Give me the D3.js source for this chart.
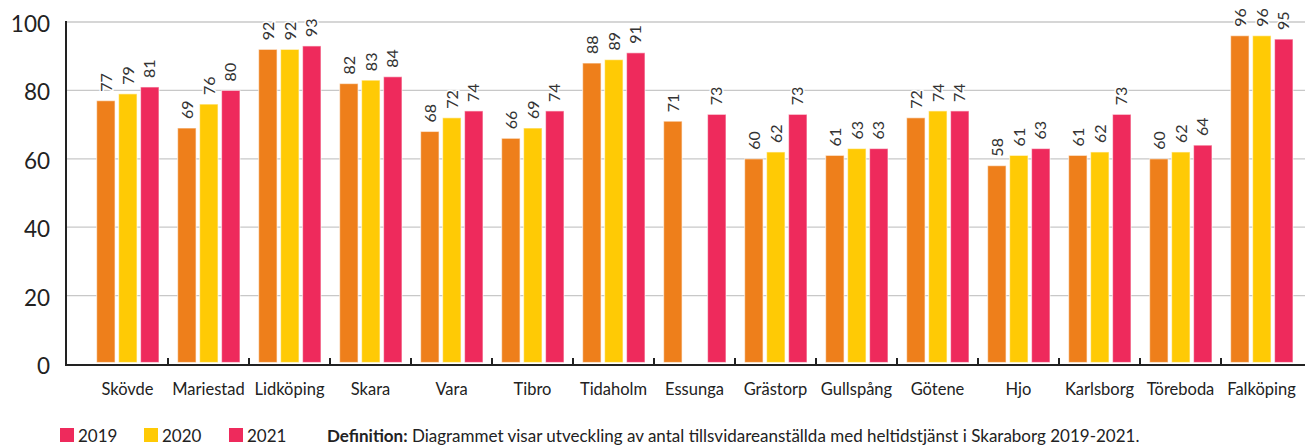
<!DOCTYPE html>
<html><head><meta charset="utf-8">
<script src="https://cdn.jsdelivr.net/npm/d3@7"></script>
<style>
html,body{margin:0;padding:0;background:#fff;}
svg{display:block;font-family:"Source Sans Pro",Lato,sans-serif;}
</style></head>
<body>
<svg id="chart" width="1305" height="445"></svg>
<script>
const categories = ["Skövde","Mariestad","Lidköping","Skara","Vara","Tibro","Tidaholm","Essunga","Grästorp","Gullspång","Götene","Hjo","Karlsborg","Töreboda","Falköping"];
const seriesNames = ["2019","2020","2021"];
const values2019 = [77,69,92,82,68,66,88,71,60,61,72,58,61,60,96];
const values2020 = [79,76,92,83,72,69,89,null,62,63,74,61,62,62,96];
const values2021 = [81,80,93,84,74,74,91,73,73,63,74,63,73,64,95];
const yTicks = [0,20,40,60,80,100];
const definitionLabel = "Definition:";
const definitionText = " Diagrammet visar utveckling av antal tillsvidareanställda med heltidstjänst i Skaraborg 2019-2021.";

const seriesValues = [values2019, values2020, values2021];
const colors = ["#EE7F1B", "#FFCA05", "#EE2A5C"];
const legendColors = ["#EE2A5C", "#FFCA05", "#EE2A5C"];

const svg = d3.select("#chart");
const axisLeftX = 66, plotRight = 1305;
const y = d3.scaleLinear().domain([0,100]).range([364,22]);
const x = d3.scaleBand().domain(categories).range([87,1302]).padding(0);
const xs = d3.scaleBand().domain(seriesNames).range([9.6, 72]).paddingInner(0.16).paddingOuter(0);

// grid
svg.append("g").selectAll("line").data(yTicks.filter(d=>d>0)).join("line")
  .attr("x1", axisLeftX).attr("x2", plotRight)
  .attr("y1", d=>y(d)).attr("y2", d=>y(d))
  .attr("stroke", "#c8c8c8").attr("stroke-width", 1.3);

// y tick labels
svg.append("g").selectAll("text").data(yTicks).join("text")
  .attr("x", 50).attr("y", d=>y(d)+10)
  .attr("text-anchor","end").attr("font-size", 22.5).attr("fill","#222")
  .text(d=>d);

// bars
const rows = [];
categories.forEach((c,i)=>{
  seriesNames.forEach((s,j)=>{
    const v = seriesValues[j][i];
    if (v != null) rows.push({c, s, j, v});
  });
});
svg.append("g").selectAll("rect").data(rows).join("rect")
  .attr("x", d=>x(d.c)+xs(d.s))
  .attr("width", xs.bandwidth())
  .attr("y", d=>y(d.v))
  .attr("height", d=>y(0)-y(d.v)-1.5)
  .attr("fill", d=>colors[d.j])
  .attr("stroke", "#fff").attr("stroke-opacity", 0.55).attr("stroke-width", 1.2);

// value labels (rotated, reading bottom to top)
const lab = svg.append("g").selectAll("g").data(rows).join("g")
  .attr("transform", d => "translate(" + (x(d.c)+xs(d.s)+xs.bandwidth()/2+5.7) + "," + (y(d.v)-9) + ")");
lab.append("text")
  .attr("transform", "rotate(-90)")
  .attr("x", 0).attr("y", 0)
  .attr("font-size", 16).attr("fill","#333")
  .attr("stroke","#fff").attr("stroke-width",3).attr("paint-order","stroke")
  .text(d=>d.v);

// axes
svg.append("line").attr("x1",axisLeftX).attr("x2",axisLeftX).attr("y1",21).attr("y2",366)
  .attr("stroke","#222").attr("stroke-width",2);
svg.append("line").attr("x1",axisLeftX-1).attr("x2",plotRight).attr("y1",365).attr("y2",365)
  .attr("stroke","#222").attr("stroke-width",2);
svg.append("g").selectAll("line").data(categories.slice(1)).join("line")
  .attr("x1", d=>x(d)).attr("x2", d=>x(d)).attr("y1", 358).attr("y2", 365)
  .attr("stroke","#222").attr("stroke-width",2);

// category labels
svg.append("g").selectAll("text").data(categories).join("text")
  .attr("x", d=>x(d)+x.bandwidth()/2).attr("y", 395)
  .attr("text-anchor","middle").attr("font-size",16.5).attr("fill","#222")
  .text(d=>d);

// legend
const lg = svg.append("g");
const legendX = [60, 144, 229];
seriesNames.forEach((s,i)=>{
  lg.append("rect").attr("x", legendX[i]).attr("y", 428).attr("width", 14).attr("height", 14).attr("fill", legendColors[i]);
  lg.append("text").attr("x", legendX[i]+18).attr("y", 442).attr("font-size", 17).attr("fill","#222").text(s);
});
const def = svg.append("text").attr("x", 327).attr("y", 442).attr("font-size", 17).attr("fill","#222");
def.append("tspan").attr("font-weight","bold").text(definitionLabel);
def.append("tspan").text(definitionText);
</script>
</body></html>
